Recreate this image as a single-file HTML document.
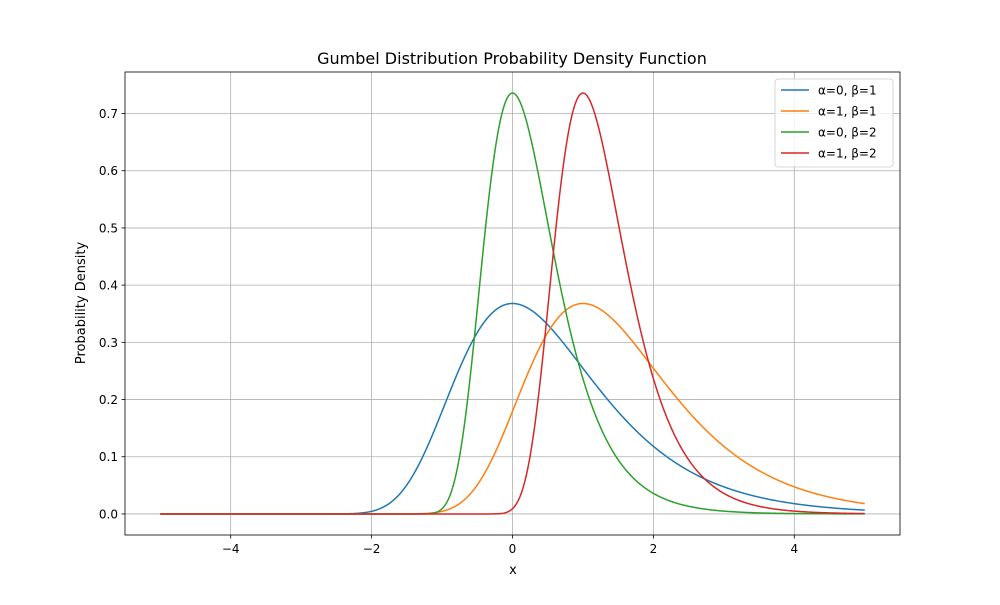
<!DOCTYPE html>
<html><head><meta charset="utf-8"><style>
body{margin:0;background:#fff;font-family:"Liberation Sans","DejaVu Sans",sans-serif;}
</style></head><body>
<svg id="chart" width="1000" height="600" xmlns="http://www.w3.org/2000/svg" font-family="DejaVu Sans, Liberation Sans, sans-serif">
<rect width="1000" height="600" fill="#fff"/>
<text x="512" y="64" text-anchor="middle" font-size="16">Gumbel Distribution Probability Density Function</text>
<g id="grid"></g><g id="series"></g><g id="axes"></g>
<text x="513" y="574" text-anchor="middle" font-size="13">x</text>
<text transform="translate(85,303) rotate(-90)" text-anchor="middle" font-size="13">Probability Density</text>
<g id="legend"></g>
</svg>
<script>
const alphas=[0,1,0,1];
const betas=[1,1,2,2];
const labels=["α=0, β=1","α=1, β=1","α=0, β=2","α=1, β=2"];
const colors=["#1f77b4","#ff7f0e","#2ca02c","#d62728"];
const xTicks=[-4,-2,0,2,4];
const yTicks=[0.0,0.1,0.2,0.3,0.4,0.5,0.6,0.7];
const xDomain=[-5,5];
const L=125,R=900,T=72,B=535;
const xmin=-5.5,xmax=5.5,ymin=-0.0368,ymax=0.7726;
const sx=v=>L+(v-xmin)/(xmax-xmin)*(R-L);
const sy=v=>B-(v-ymin)/(ymax-ymin)*(B-T);
const NS="http://www.w3.org/2000/svg";
function mk(t,a,p){const e=document.createElementNS(NS,t);for(const k in a)e.setAttribute(k,a[k]);p.appendChild(e);return e;}
const grid=document.getElementById('grid'),axes=document.getElementById('axes'),ser=document.getElementById('series'),leg=document.getElementById('legend');
xTicks.forEach(v=>{
 const g=mk('line',{x1:sx(v),x2:sx(v),y1:T,y2:B,stroke:'#b0b0b0','stroke-width':0.8},grid);
 
 
 mk('line',{x1:sx(v),x2:sx(v),y1:B,y2:B+3.5,stroke:'#000','stroke-width':0.8},axes);
 const t=mk('text',{x:sx(v),y:B+18,'text-anchor':'middle','font-size':12},axes);
 t.textContent=(v<0?'−'+(-v):v);
 
 
});
yTicks.forEach(v=>{
 const g=mk('line',{x1:L,x2:R,y1:sy(v),y2:sy(v),stroke:'#b0b0b0','stroke-width':0.8},grid);
 
 
 mk('line',{x1:L-3.5,x2:L,y1:sy(v),y2:sy(v),stroke:'#000','stroke-width':0.8},axes);
 const t=mk('text',{x:L-7,y:sy(v)+4.5,'text-anchor':'end','font-size':12},axes);
 t.textContent=v.toFixed(1);
 
 
});
const fr=mk('rect',{x:L,y:T,width:R-L,height:B-T,fill:'none',stroke:'#000','stroke-width':0.8},axes);


alphas.forEach((a,i)=>{
 const b=betas[i];let d='';
 for(let k=0;k<=1000;k++){
  const x=xDomain[0]+(xDomain[1]-xDomain[0])*k/1000;
  const z=b*(x-a);const y=b*Math.exp(-(z+Math.exp(-z)));
  d+=(k?'L':'M')+sx(x).toFixed(2)+','+sy(y).toFixed(2);
 }
 const p=mk('path',{d:d,fill:'none',stroke:colors[i],'stroke-width':1.5},ser);
 
 
});
const lb=mk('rect',{x:775,y:79,width:118,height:88,rx:3,fill:'#fff','fill-opacity':0.8,stroke:'#ccc','stroke-width':0.8},leg);


labels.forEach((s,i)=>{
 const y=90+i*21;
 const l=mk('line',{x1:781,x2:809,y1:y,y2:y,stroke:colors[i],'stroke-width':1.5},leg);
 
 
 const t=mk('text',{x:818,y:y+4.5,'font-size':12},leg);
 t.textContent=s;
 
 
});
</script>
</body></html>
